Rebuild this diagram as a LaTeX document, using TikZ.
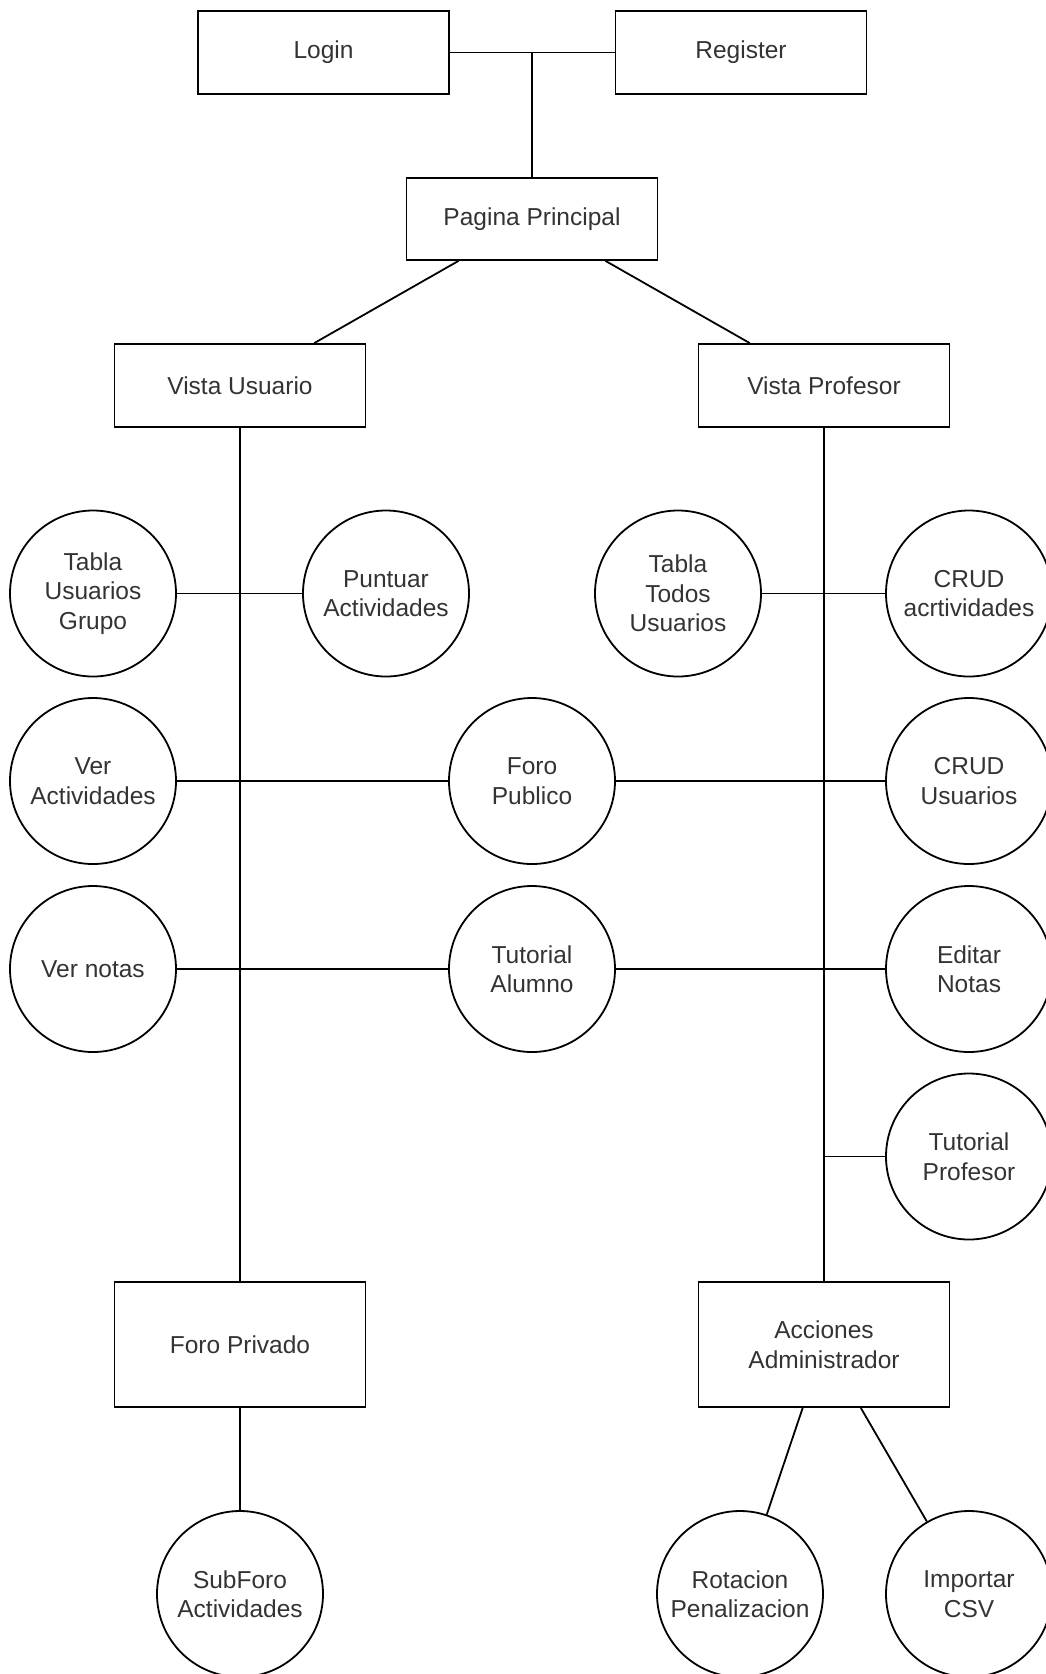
\documentclass[tikz,border=0pt]{standalone}
\usepackage{fontspec}
\setmainfont{Liberation Sans}
\usetikzlibrary{positioning}
\definecolor{ctext}{HTML}{333333}
\tikzset{
  every picture/.style={line width=1.8pt, x=1pt, y=-1pt},
  box/.style={draw=black, rectangle, align=center, inner sep=0pt, minimum width=251pt, minimum height=#1},
  box/.default=83pt,
  circ/.style={draw=black, circle, align=center, inner sep=0pt, minimum size=166pt},
  link/.style={draw=black},
}

\begin{document}
\begin{tikzpicture}[font=\fontsize{24.5}{29.5}\selectfont, text=ctext]
  \path[use as bounding box, clip] (0,0) rectangle (1046,1674);
  % top: access
  \node[box] (login) at (323.5,52.5) {Login};
  \node[box] (register) at (741,52.5) {Register};
  \node[box=82pt] (principal) at (532,219) {Pagina Principal};
  \draw[link] (login) -- (register);
  \draw[link] (principal) -- (principal.north |- login.east);
  % the two views
  \node[box] (vusuario) at (240,385.5) {Vista Usuario};
  \node[box] (vprofesor) at (824,385.5) {Vista Profesor};
  \draw[link] (principal) -- (vusuario); \draw[link] (principal) -- (vprofesor);
  % user side
  \node[circ] (tablaug) at (93,593.5) {Tabla\\Usuarios\\Grupo};
  \node[circ] (puntuar) at (386,593.5) {Puntuar\\Actividades};
  \node[circ] (veract) at (93,781) {Ver\\Actividades};
  \node[circ] (vernotas) at (93,969) {Ver notas};
  % shared
  \node[circ] (foropub) at (532,781) {Foro\\Publico};
  \node[circ] (tutalumno) at (532,969) {Tutorial\\Alumno};
  % teacher side
  \node[circ] (tablatu) at (678,593.5) {Tabla\\Todos\\Usuarios};
  \node[circ] (crudact) at (969,593.5) {CRUD\\acrtividades};
  \node[circ] (crudusr) at (969,781) {CRUD\\Usuarios};
  \node[circ] (editar) at (969,969) {Editar\\Notas};
  \node[circ] (tutprof) at (969,1156.5) {Tutorial\\Profesor};
  % bottom boxes
  \node[box=125pt] (foropriv) at (240,1344.5) {Foro Privado};
  \node[box=125pt] (acciones) at (824,1344.5) {Acciones\\Administrador};
  \node[circ] (subforo) at (240,1594) {SubForo\\Actividades};
  \node[circ] (rotacion) at (740,1594) {Rotacion\\Penalizacion};
  \node[circ] (importar) at (969,1594) {Importar\\CSV};
  % connectors
  \draw[link] (vusuario) -- (foropriv);
  \draw[link] (vprofesor) -- (acciones);
  \draw[link] (tablaug) -- (puntuar);
  \draw[link] (tablatu) -- (crudact);
  \draw[link] (veract) -- (foropub); \draw[link] (foropub) -- (crudusr);
  \draw[link] (vernotas) -- (tutalumno); \draw[link] (tutalumno) -- (editar);
  \draw[link] (tutprof.west) -- (tutprof.west -| vprofesor);
  \draw[link] (foropriv) -- (subforo);
  \draw[link] (acciones) -- (rotacion); \draw[link] (acciones) -- (importar);
\end{tikzpicture}
\end{document}
